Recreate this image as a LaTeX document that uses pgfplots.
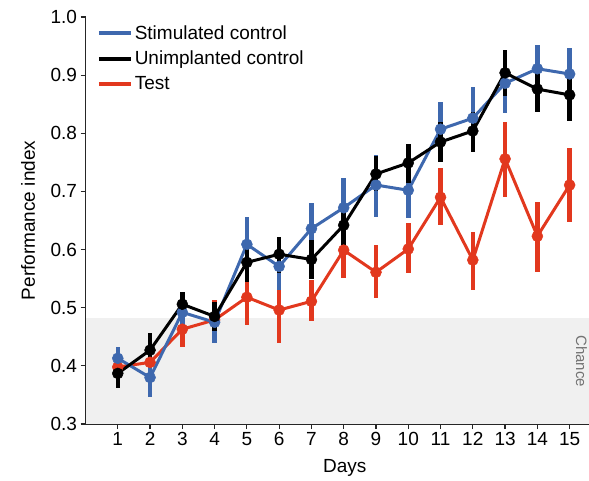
\documentclass[border=0pt]{standalone}
\usepackage{fontspec}
\setmainfont{Liberation Sans}
\usepackage{pgfplots}
\pgfplotsset{compat=1.18}
\definecolor{cblue}{RGB}{62,104,174}
\definecolor{cred}{RGB}{226,56,30}
\definecolor{band}{RGB}{240,240,240}
\begin{document}
\begin{tikzpicture}
\useasboundingbox (0,0) rectangle (589bp,481bp);
\begin{axis}[
  at={(85.5bp,57bp)}, anchor=south west,
  width=503.5bp, height=407bp, scale only axis,
  xmin=0, xmax=15.6, ymin=0.3, ymax=1.0,
  axis lines*=left,
  axis line style={line width=1.2bp, color=black!85},
  xtick={1,2,3,4,5,6,7,8,9,10,11,12,13,14,15},
  ytick={0.3,0.4,0.5,0.6,0.7,0.8,0.9,1.0},
  tick style={line width=1.2bp, color=black!85},
  tick align=outside, major tick length=5bp,
  /pgf/number format/assume math mode=true,
  tick label style={font=\fontsize{19bp}{22bp}\selectfont},
  yticklabel style={/pgf/number format/.cd, fixed, fixed zerofill, precision=1},
  label style={font=\fontsize{19bp}{22bp}\selectfont},
  xlabel={Days}, ylabel={Performance index},
  xlabel style={at={(axis description cs:0.515,-0.108)}, anchor=center},
  ylabel style={at={(axis description cs:-0.114,0.5)}, anchor=center},
  clip=false,
  legend style={at={(axis description cs:0.022,0.985)}, anchor=north west,
    draw=none, fill=none, font=\fontsize{19bp}{22bp}\selectfont,
    row sep=6.5bp, inner sep=0pt},
  legend cell align=left,
  legend image code/.code={\draw[#1, line width=4bp] (0bp,0bp) -- (32bp,0bp);},
  error bars/y dir=both, error bars/y explicit,
  error bars/error mark=none,
]
\addlegendimage{cblue}
\addlegendimage{black}
\addlegendimage{cred}
\addlegendentry{Stimulated control}
\addlegendentry{Unimplanted control}
\addlegendentry{Test}

\addplot[fill=band, draw=none, forget plot] coordinates {(0,0.3) (0,0.482) (15.6,0.482) (15.6,0.3)} -- cycle;
\node[rotate=-90, font=\fontsize{15bp}{18bp}\selectfont, text=black!55] at (axis cs:15.37,0.408) {Chance};

% Test
\addplot[cred, line width=3bp, mark=*, mark size=5.5bp, mark options={solid, fill=cred, draw=cred, line width=0.5bp},
  error bars/error bar style={line width=4.5bp, cred}, forget plot]
  table[x=x, y=y, y error plus=ep, y error minus=em] {
x y ep em
1 0.398 0.015 0.015
2 0.406 0.022 0.022
3 0.463 0.027 0.031
4 0.479 0.034 0.030
5 0.518 0.040 0.048
6 0.496 0.040 0.056
7 0.511 0.036 0.033
8 0.599 0.040 0.048
9 0.561 0.047 0.045
10 0.601 0.044 0.042
11 0.690 0.050 0.048
12 0.582 0.048 0.052
13 0.756 0.063 0.066
14 0.623 0.059 0.062
15 0.711 0.064 0.064
};

% Stimulated control
\addplot[cblue, line width=3bp, mark=*, mark size=5.5bp, mark options={solid, fill=cblue, draw=cblue, line width=0.5bp},
  error bars/error bar style={line width=4.5bp, cblue}, forget plot]
  table[x=x, y=y, y error plus=ep, y error minus=em] {
x y ep em
1 0.413 0.019 0.018
2 0.380 0.030 0.034
3 0.492 0.018 0.022
4 0.475 0.035 0.035
5 0.609 0.047 0.044
6 0.571 0.039 0.041
7 0.636 0.044 0.046
8 0.672 0.051 0.052
9 0.711 0.051 0.055
10 0.702 0.048 0.048
11 0.807 0.047 0.047
12 0.826 0.054 0.046
13 0.886 0.044 0.051
14 0.911 0.041 0.041
15 0.902 0.044 0.042
};

% Unimplanted control
\addplot[black, line width=3bp, mark=*, mark size=5.5bp, mark options={solid, fill=black, draw=black, line width=0.5bp},
  error bars/error bar style={line width=4.5bp, black}, forget plot]
  table[x=x, y=y, y error plus=ep, y error minus=em] {
x y ep em
1 0.387 0.023 0.025
2 0.427 0.029 0.027
3 0.506 0.021 0.021
4 0.485 0.025 0.025
5 0.578 0.033 0.034
6 0.592 0.029 0.032
7 0.583 0.033 0.033
8 0.642 0.034 0.034
9 0.730 0.031 0.030
10 0.749 0.032 0.035
11 0.785 0.035 0.035
12 0.804 0.033 0.036
13 0.904 0.040 0.040
14 0.876 0.038 0.040
15 0.866 0.034 0.045
};
\end{axis}
\end{tikzpicture}
\end{document}
